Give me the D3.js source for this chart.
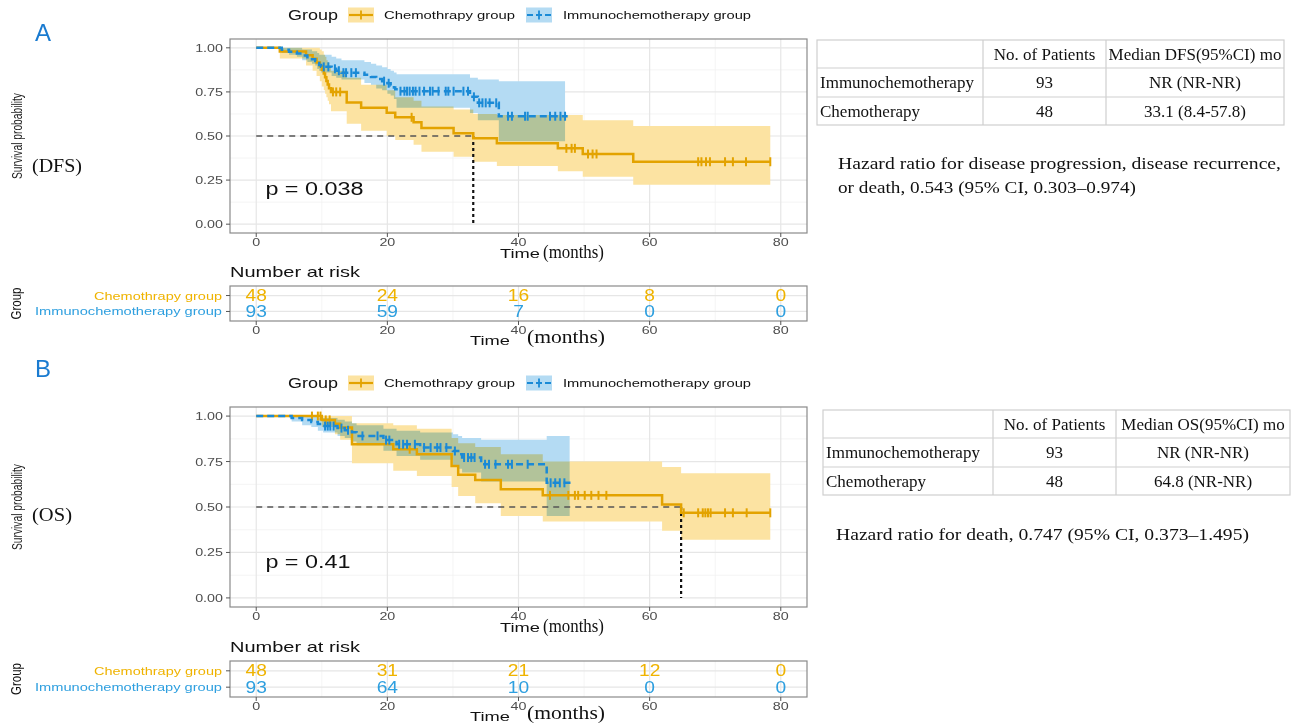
<!DOCTYPE html>
<html>
<head>
<meta charset="utf-8">
<script src="https://cdn.jsdelivr.net/npm/d3@7"></script>
<style>
  body { margin: 0; background: #fff; }
  svg { display: block; }
</style>
</head>
<body>
<svg id="fig" width="1296" height="724"></svg>
<script>
// ---------------- data ----------------
const timeTicks = [0, 20, 40, 60, 80];
const timeMinor = [10, 30, 50, 70];
const survTicks = [0, 0.25, 0.5, 0.75, 1];
const survMinor = [0.125, 0.375, 0.625, 0.875];
const groupNames = ["Chemothrapy group", "Immunochemotherapy group"];

// Disease-free survival, Kaplan-Meier steps [month, survival]
const dfsChemoSteps = [[0,1.000],[3.6,0.979],[7.6,0.958],[8.6,0.938],[9.2,0.917],[9.7,0.896],[10.0,0.875],[10.3,0.854],[10.5,0.833],[10.7,0.812],[10.9,0.792],[11.1,0.771],[11.4,0.750],[13.8,0.690],[16.0,0.660],[19.9,0.632],[21.2,0.606],[24.0,0.578],[25.2,0.546],[30.1,0.516],[33.1,0.487],[36.7,0.459],[46.0,0.430],[49.8,0.398],[57.5,0.354]];
const dfsChemoEnd = 78.4;
const dfsChemoCensor = [11.7,12.2,12.8,23.7,47.3,48.1,48.6,50.6,51.3,51.9,67.4,67.9,68.6,69.2,71.5,72.7,74.7,78.4];
// confidence band [month, lower, upper]
const dfsChemoBand = [[0,1,1],[3.6,0.94,1],[7.6,0.90,1],[8.6,0.87,1],[9.2,0.84,1],[9.7,0.81,0.99],[10.0,0.78,0.98],[10.3,0.76,0.96],[10.5,0.74,0.95],[10.7,0.72,0.93],[10.9,0.70,0.92],[11.1,0.68,0.90],[11.4,0.64,0.87],[13.8,0.57,0.83],[16.0,0.53,0.79],[19.9,0.50,0.76],[21.2,0.477,0.72],[24.0,0.45,0.70],[25.2,0.411,0.667],[30.1,0.383,0.65],[33.1,0.354,0.625],[36.7,0.33,0.619],[46.0,0.30,0.619],[49.8,0.269,0.59],[57.5,0.224,0.557]];
const dfsChemoBandEnd = 78.4;

const dfsImmunoSteps = [[0,1.000],[3.9,0.989],[5.0,0.978],[6.2,0.968],[7.0,0.957],[7.8,0.946],[8.5,0.935],[9.0,0.925],[9.3,0.914],[9.6,0.903],[9.9,0.892],[11.5,0.881],[12.2,0.870],[13.0,0.859],[16.5,0.847],[17.5,0.835],[18.3,0.823],[19.2,0.811],[20.0,0.799],[20.5,0.787],[21.0,0.775],[21.2,0.765],[21.4,0.754],[32.6,0.722],[33.8,0.688],[37.0,0.612]];
const dfsImmunoEnd = 47.5;
const dfsImmunoCensor = [10.3,11.0,12.0,12.6,13.3,13.7,14.5,15.2,19.5,20.2,22.0,22.6,23.0,23.4,23.9,24.3,24.9,25.6,26.5,26.9,27.8,28.9,29.3,30.1,31.6,32.3,33.2,34.0,34.5,35.0,35.6,36.6,38.4,39.0,41.0,41.4,44.8,45.6,46.4,47.1];
const dfsImmunoBand = [[0,1,1],[3.9,0.97,1],[5.0,0.96,1],[6.2,0.95,1],[7.0,0.93,0.99],[7.8,0.92,0.99],[8.5,0.91,0.98],[9.0,0.90,0.98],[9.3,0.88,0.97],[9.6,0.87,0.96],[9.9,0.86,0.96],[11.5,0.84,0.95],[12.2,0.83,0.94],[13.0,0.82,0.93],[16.5,0.80,0.92],[17.5,0.79,0.91],[18.3,0.77,0.90],[19.2,0.76,0.89],[20.0,0.74,0.88],[20.5,0.73,0.87],[21.0,0.71,0.86],[21.4,0.66,0.85],[32.6,0.63,0.83],[33.8,0.59,0.82],[37.0,0.47,0.81]];
const dfsImmunoBandEnd = 47.1;

// Overall survival
const osChemoSteps = [[0,1.000],[10.0,0.979],[12.0,0.958],[12.8,0.937],[14.6,0.845],[20.9,0.818],[24.5,0.790],[29.8,0.726],[30.8,0.677],[33.4,0.649],[37.3,0.597],[43.7,0.564],[61.9,0.514],[64.8,0.468]];
const osChemoEnd = 78.4;
const osChemoCensor = [8.5,9.4,9.8,10.6,11.2,23.4,44.8,47.6,48.6,49.1,50.1,51.1,52.2,53.4,65.2,67.4,68.1,68.5,68.9,69.3,71.5,72.7,74.8,78.4];
const osChemoBand = [[0,1,1],[10.0,0.94,1],[12.0,0.90,1],[12.8,0.87,1],[14.6,0.74,0.96],[20.9,0.70,0.95],[24.5,0.67,0.93],[29.8,0.61,0.88],[30.8,0.56,0.85],[33.4,0.52,0.83],[37.3,0.45,0.79],[43.7,0.42,0.75],[61.9,0.37,0.72],[64.8,0.32,0.685]];
const osChemoBandEnd = 78.4;

const osImmunoSteps = [[0,1.000],[5.4,0.989],[7.0,0.978],[8.4,0.967],[9.4,0.956],[10.2,0.945],[12.4,0.934],[13.5,0.922],[14.6,0.911],[15.3,0.891],[19.4,0.868],[21.4,0.845],[25.0,0.827],[30.0,0.808],[30.8,0.790],[31.4,0.772],[34.3,0.735],[44.3,0.633]];
const osImmunoEnd = 48.5;
const osImmunoCensor = [10.5,10.9,11.3,11.8,13.0,14.0,16.2,18.5,19.8,20.3,21.8,22.4,23.0,24.2,25.6,26.6,27.6,28.1,29.0,30.3,31.7,32.3,32.8,33.3,34.9,35.5,36.5,38.4,39.0,41.4,44.9,45.6,46.3,47.0];
const osImmunoBand = [[0,1,1],[5.4,0.97,1],[7.0,0.95,1],[8.4,0.94,1],[9.4,0.92,0.99],[10.2,0.91,0.99],[12.4,0.89,0.98],[13.5,0.88,0.97],[14.6,0.86,0.96],[15.3,0.84,0.95],[19.4,0.81,0.93],[21.4,0.78,0.92],[25.0,0.76,0.91],[30.0,0.73,0.90],[30.8,0.71,0.89],[31.4,0.69,0.88],[34.3,0.64,0.87],[44.3,0.45,0.89]];
const osImmunoBandEnd = 47.8;

const dfsMedian = 33.1;
const osMedian = 64.8;
const dfsPValue = "p = 0.038";
const osPValue = "p = 0.41";

// Number at risk
const riskTimes = [0, 20, 40, 60, 80];
const dfsRiskChemo = [48, 24, 16, 8, 0];
const dfsRiskImmuno = [93, 59, 7, 0, 0];
const osRiskChemo = [48, 31, 21, 12, 0];
const osRiskImmuno = [93, 64, 10, 0, 0];

// Summary tables
const armNames = ["Immunochemotherapy", "Chemotherapy"];
const patientCounts = [93, 48];
const dfsMedianText = ["NR (NR-NR)", "33.1 (8.4-57.8)"];
const osMedianText = ["NR (NR-NR)", "64.8 (NR-NR)"];
const dfsHazardLines = ["Hazard ratio for disease progression, disease recurrence,", "or death, 0.543 (95% CI, 0.303\u20130.974)"];
const osHazardLines = ["Hazard ratio for death, 0.747 (95% CI, 0.373\u20131.495)"];

// ---------------- styles ----------------
const SANS = "'Liberation Sans', Arial, Helvetica, sans-serif";
const SERIF = "'Liberation Serif', 'Times New Roman', serif";
const lineChemo = "#E3A300", lineImmuno = "#1A8AD6";
const textChemo = "#EFB300", textImmuno = "#2E9FDF";
const fillChemo = "#FCE3A2", fillImmuno = "#B4DBF3";
const gridMajor = "#e6e6e6", gridMinor = "#f1f1f1";
const STRETCH = 1.3;   // ggplot text is drawn wide

const svg = d3.select("#fig");

function addText(g, str, x, y, o = {}) {
  const t = g.append("text")
    .attr("x", x).attr("y", y).text(str)
    .attr("font-family", o.family || SANS)
    .attr("font-size", o.size || 12)
    .attr("fill", o.fill || "#000")
    .attr("text-anchor", o.anchor || "start")
    .attr("dominant-baseline", "central");
  if (o.rotate) t.attr("transform", `rotate(${o.rotate},${x},${y})`);
  if (o.len || o.sx) {
    const w = o.len || t.node().getComputedTextLength() * o.sx;
    t.attr("textLength", w).attr("lengthAdjust", "spacingAndGlyphs");
  }
  return t;
}

function survAt(steps, t) {
  let s = steps[0][1];
  for (const [tt, v] of steps) if (tt <= t) s = v;
  return s;
}

const x = d3.scaleLinear().domain([-4, 84]).range([230, 807]);

function drawLegend(yc) {
  const g = svg.append("g");
  addText(g, "Group", 288, yc, { size: 14, len: 50, fill: "#111" });
  const keys = [
    { x: 348, fill: fillChemo, stroke: lineChemo, dash: null, label: groupNames[0], lx: 384, len: 131 },
    { x: 526, fill: fillImmuno, stroke: lineImmuno, dash: "6,3", label: groupNames[1], lx: 563, len: 188 }
  ];
  keys.forEach(k => {
    g.append("rect").attr("x", k.x).attr("y", yc - 7.5).attr("width", 26).attr("height", 15).attr("fill", k.fill);
    g.append("line").attr("x1", k.x + 1).attr("x2", k.x + 25).attr("y1", yc).attr("y2", yc)
      .attr("stroke", k.stroke).attr("stroke-width", 2.2).attr("stroke-dasharray", k.dash);
    g.append("line").attr("x1", k.x + 13).attr("x2", k.x + 13).attr("y1", yc - 4.5).attr("y2", yc + 4.5)
      .attr("stroke", k.stroke).attr("stroke-width", 1.8);
    addText(g, k.label, k.lx, yc, { size: 11.5, len: k.len, fill: "#111" });
  });
}

function drawPanel(p) {
  const g = svg.append("g");
  const y = d3.scaleLinear().domain([-0.05, 1.05]).range([p.bottom, p.top]);
  const [x0, x1] = x.range();

  // grid
  const grid = g.append("g");
  timeMinor.forEach(t => grid.append("line").attr("x1", x(t)).attr("x2", x(t)).attr("y1", p.top).attr("y2", p.bottom).attr("stroke", gridMinor).attr("stroke-width", 0.8));
  survMinor.forEach(s => grid.append("line").attr("x1", x0).attr("x2", x1).attr("y1", y(s)).attr("y2", y(s)).attr("stroke", gridMinor).attr("stroke-width", 0.8));
  timeTicks.forEach(t => grid.append("line").attr("x1", x(t)).attr("x2", x(t)).attr("y1", p.top).attr("y2", p.bottom).attr("stroke", gridMajor).attr("stroke-width", 1.2));
  survTicks.forEach(s => grid.append("line").attr("x1", x0).attr("x2", x1).attr("y1", y(s)).attr("y2", y(s)).attr("stroke", gridMajor).attr("stroke-width", 1.2));

  // confidence bands
  const area = d3.area().x(d => x(d[0])).y0(d => y(d[1])).y1(d => y(d[2])).curve(d3.curveStepAfter);
  const bands = g.append("g").style("isolation", "isolate");
  p.series.forEach(s => {
    const last = s.band[s.band.length - 1];
    bands.append("path").attr("d", area(s.band.concat([[s.bandEnd, last[1], last[2]]])))
      .attr("fill", s.fill).style("mix-blend-mode", "multiply");
  });

  // median reference lines
  g.append("line").attr("x1", x(0)).attr("x2", x(p.median)).attr("y1", y(0.5)).attr("y2", y(0.5))
    .attr("stroke", "#555").attr("stroke-width", 1.6).attr("stroke-dasharray", "6,5");
  g.append("line").attr("x1", x(p.median)).attr("x2", x(p.median)).attr("y1", y(0.5)).attr("y2", y(0))
    .attr("stroke", "#111").attr("stroke-width", 2.2).attr("stroke-dasharray", "3,3");

  // survival curves and censor marks
  const line = d3.line().x(d => x(d[0])).y(d => y(d[1])).curve(d3.curveStepAfter);
  p.series.forEach(s => {
    const last = s.steps[s.steps.length - 1];
    g.append("path").attr("d", line(s.steps.concat([[s.end, last[1]]])))
      .attr("fill", "none").attr("stroke", s.stroke).attr("stroke-width", 2.5)
      .attr("stroke-dasharray", s.dash);
    g.selectAll(null).data(s.censor).join("line")
      .attr("x1", d => x(d)).attr("x2", d => x(d))
      .attr("y1", d => y(survAt(s.steps, d)) - 4.5).attr("y2", d => y(survAt(s.steps, d)) + 4.5)
      .attr("stroke", s.stroke).attr("stroke-width", 2);
  });

  // border
  g.append("rect").attr("x", x0).attr("y", p.top).attr("width", x1 - x0).attr("height", p.bottom - p.top)
    .attr("fill", "none").attr("stroke", "#8a8a8a").attr("stroke-width", 1.2);

  // axes
  survTicks.forEach(s => {
    g.append("line").attr("x1", x0 - 4).attr("x2", x0).attr("y1", y(s)).attr("y2", y(s)).attr("stroke", "#555");
    addText(g, d3.format(".2f")(s), x0 - 7, y(s), { size: 11, anchor: "end", fill: "#4d4d4d", sx: STRETCH });
  });
  timeTicks.forEach(t => {
    g.append("line").attr("x1", x(t)).attr("x2", x(t)).attr("y1", p.bottom).attr("y2", p.bottom + 4).attr("stroke", "#555");
    addText(g, t, x(t), p.bottom + 9, { size: 11, anchor: "middle", fill: "#4d4d4d", sx: STRETCH });
  });
  addText(g, "Time", 500, p.bottom + 20, { size: 13.5, len: 40, fill: "#111" });
  addText(g, "(months)", 543, p.bottom + 19, { family: SERIF, size: 18, len: 61, fill: "#111" });

  const ym = (p.top + p.bottom) / 2;
  addText(g, "Survival probability", 17, ym, { size: 14, len: 86, anchor: "middle", rotate: -90, fill: "#222" });
  addText(g, p.tag, 32, p.tagY, { family: SERIF, size: 19, len: p.tagLen, fill: "#111" });
  addText(g, p.pval, x(1.4), y(0.2), { size: 18, len: p.pLen, fill: "#111" });

  addText(g, p.letter, 35, p.letterY, { size: 24, fill: "#1a7bd0" });
}

function drawRisk(r) {
  const g = svg.append("g");
  const [x0, x1] = x.range();
  const yr = d3.scalePoint().domain(groupNames).range([r.top, r.bottom]).padding(0.6);

  addText(g, "Number at risk", x0, r.top - 15, { size: 15, len: 130, fill: "#111" });

  timeMinor.forEach(t => g.append("line").attr("x1", x(t)).attr("x2", x(t)).attr("y1", r.top).attr("y2", r.bottom).attr("stroke", gridMinor).attr("stroke-width", 0.8));
  timeTicks.forEach(t => g.append("line").attr("x1", x(t)).attr("x2", x(t)).attr("y1", r.top).attr("y2", r.bottom).attr("stroke", gridMajor).attr("stroke-width", 1.2));
  groupNames.forEach(n => g.append("line").attr("x1", x0).attr("x2", x1).attr("y1", yr(n)).attr("y2", yr(n)).attr("stroke", gridMajor).attr("stroke-width", 1.2));
  g.append("rect").attr("x", x0).attr("y", r.top).attr("width", x1 - x0).attr("height", r.bottom - r.top)
    .attr("fill", "none").attr("stroke", "#8a8a8a").attr("stroke-width", 1.2);

  const rows = [
    { name: groupNames[0], counts: r.chemo, color: textChemo, len: 128 },
    { name: groupNames[1], counts: r.immuno, color: textImmuno, len: 187 }
  ];
  rows.forEach(row => {
    const yy = yr(row.name);
    g.append("line").attr("x1", x0 - 4).attr("x2", x0).attr("y1", yy).attr("y2", yy).attr("stroke", "#555");
    addText(g, row.name, x0 - 8, yy, { size: 11, anchor: "end", len: row.len, fill: row.color });
    row.counts.forEach((c, i) => addText(g, c, x(riskTimes[i]), yy, { size: 16, anchor: "middle", fill: row.color, sx: 1.2 }));
  });

  timeTicks.forEach(t => {
    g.append("line").attr("x1", x(t)).attr("x2", x(t)).attr("y1", r.bottom).attr("y2", r.bottom + 4).attr("stroke", "#555");
    addText(g, t, x(t), r.bottom + 9, { size: 11, anchor: "middle", fill: "#4d4d4d", sx: STRETCH });
  });
  addText(g, "Group", 16, (r.top + r.bottom) / 2, { size: 14, len: 32, anchor: "middle", rotate: -90, fill: "#111" });
  addText(g, "Time", 470, r.bottom + 19, { size: 13.5, len: 40, fill: "#111" });
  addText(g, "(months)", 527, r.bottom + 16, { family: SERIF, size: 18.5, len: 78, fill: "#111" });
}

function drawSummary(t) {
  const g = svg.append("g");
  const cols = t.cols, rows = t.rows;
  const stroke = "#cfcfcf";
  g.append("rect").attr("x", cols[0]).attr("y", rows[0]).attr("width", cols[3] - cols[0]).attr("height", rows[3] - rows[0])
    .attr("fill", "none").attr("stroke", stroke).attr("stroke-width", 1.2);
  [cols[1], cols[2]].forEach(cx => g.append("line").attr("x1", cx).attr("x2", cx).attr("y1", rows[0]).attr("y2", rows[3]).attr("stroke", stroke).attr("stroke-width", 1.2));
  [rows[1], rows[2]].forEach(ry => g.append("line").attr("x1", cols[0]).attr("x2", cols[3]).attr("y1", ry).attr("y2", ry).attr("stroke", stroke).attr("stroke-width", 1.2));
  const mid = i => (rows[i] + rows[i + 1]) / 2;
  const cmid = i => (cols[i] + cols[i + 1]) / 2;
  const o = { family: SERIF, size: 17, fill: "#111" };
  addText(g, "No. of Patients", cmid(1), mid(0), { ...o, anchor: "middle" });
  addText(g, t.header, cmid(2), mid(0), { ...o, anchor: "middle" });
  armNames.forEach((a, i) => {
    addText(g, a, cols[0] + 3, mid(i + 1), o);
    addText(g, patientCounts[i], cmid(1), mid(i + 1), { ...o, anchor: "middle" });
    addText(g, t.medians[i], cmid(2), mid(i + 1), { ...o, anchor: "middle" });
  });
  t.hazard.forEach((h, i) => addText(g, h, t.hx, t.hy + i * 24, { family: SERIF, size: 17.5, len: t.hLen[i], fill: "#111" }));
}

// ---------------- panel A: DFS ----------------
drawLegend(15);
drawPanel({
  top: 39, bottom: 233, median: dfsMedian, pval: dfsPValue, pLen: 98,
  tag: "(DFS)", tagY: 165, tagLen: 50, letter: "A", letterY: 32,
  series: [
    { steps: dfsChemoSteps, end: dfsChemoEnd, censor: dfsChemoCensor, band: dfsChemoBand, bandEnd: dfsChemoBandEnd, stroke: lineChemo, fill: fillChemo, dash: null },
    { steps: dfsImmunoSteps, end: dfsImmunoEnd, censor: dfsImmunoCensor, band: dfsImmunoBand, bandEnd: dfsImmunoBandEnd, stroke: lineImmuno, fill: fillImmuno, dash: "7,4" }
  ]
});
drawRisk({ top: 286, bottom: 321, chemo: dfsRiskChemo, immuno: dfsRiskImmuno });
drawSummary({
  cols: [817, 983, 1106, 1284], rows: [40, 68, 97, 125],
  header: "Median DFS(95%CI) mo", medians: dfsMedianText,
  hazard: dfsHazardLines, hx: 838, hy: 163, hLen: [443, 298]
});

// ---------------- panel B: OS ----------------
drawLegend(383);
drawPanel({
  top: 407, bottom: 607, median: osMedian, pval: osPValue, pLen: 85,
  tag: "(OS)", tagY: 514, tagLen: 40, letter: "B", letterY: 368,
  series: [
    { steps: osChemoSteps, end: osChemoEnd, censor: osChemoCensor, band: osChemoBand, bandEnd: osChemoBandEnd, stroke: lineChemo, fill: fillChemo, dash: null },
    { steps: osImmunoSteps, end: osImmunoEnd, censor: osImmunoCensor, band: osImmunoBand, bandEnd: osImmunoBandEnd, stroke: lineImmuno, fill: fillImmuno, dash: "7,4" }
  ]
});
drawRisk({ top: 661, bottom: 697, chemo: osRiskChemo, immuno: osRiskImmuno });
drawSummary({
  cols: [823, 993, 1116, 1290], rows: [410, 438, 467, 495],
  header: "Median OS(95%CI) mo", medians: osMedianText,
  hazard: osHazardLines, hx: 836, hy: 534, hLen: [413]
});
</script>
</body>
</html>
